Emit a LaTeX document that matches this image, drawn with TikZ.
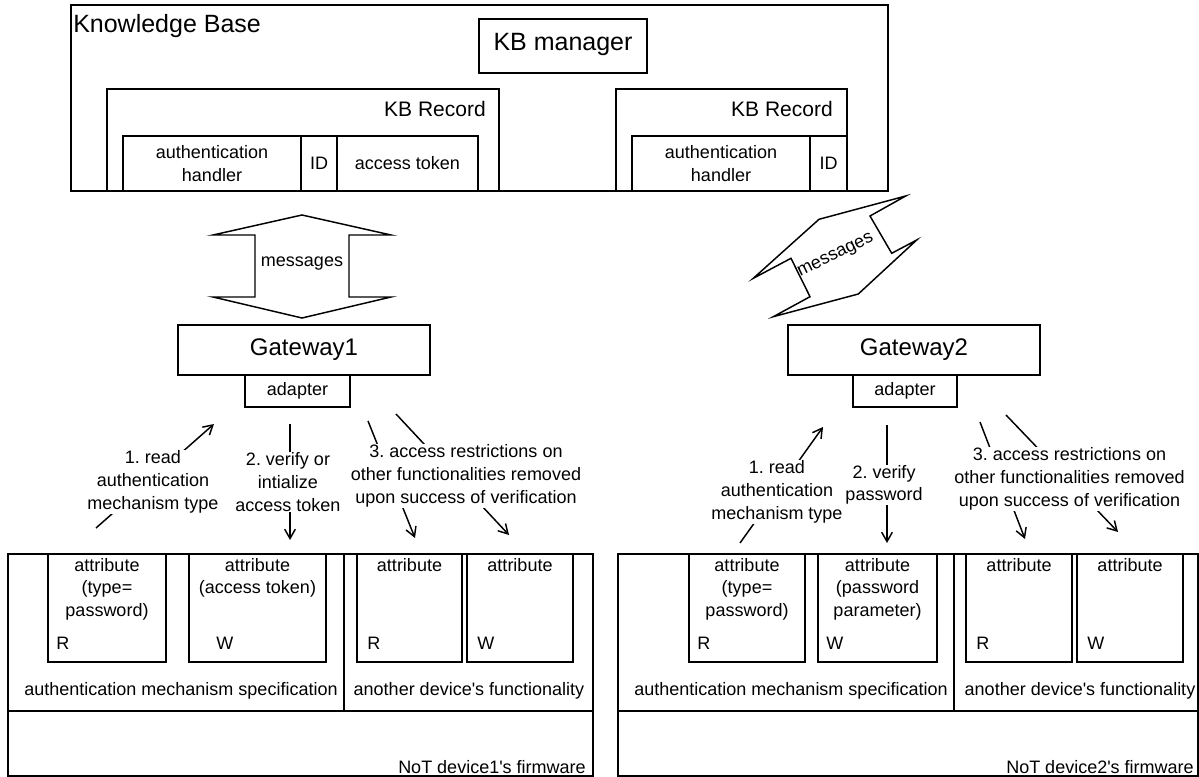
\documentclass[tikz,border=0pt]{standalone}
\usepackage{fontspec}
\setmainfont{Liberation Sans}
\usetikzlibrary{arrows.meta,fit}
\newcommand{\apo}{\textquotesingle}
\frenchspacing
\begin{document}
\begin{tikzpicture}[x=0.75pt,y=-0.75pt,
  box/.style={draw, line width=1.1pt, inner sep=0pt, outer sep=0pt},
  txt/.style={font=\fontsize{13.5}{17}\selectfont, inner sep=0pt, align=center},
  big/.style={font=\fontsize{18.75}{22}\selectfont, inner sep=0pt},
  gwf/.style={font=\fontsize{18}{22}\selectfont, inner sep=0pt},
  rec/.style={font=\fontsize{15.75}{19}\selectfont, inner sep=0pt},
  conn/.style={line width=1.1pt, -{Straight Barb[length=7pt,width=8pt]}},
  lab/.style={txt, fill=white, inner sep=0.5pt},
  msg/.style={line width=1.1pt, line join=miter}
]
\useasboundingbox (0,0) rectangle (1199,777);

% Knowledge base
\node[box, fit={(71,5)(888,191)}] (kb) {};
\node[big, anchor=base west] (kbt) at (73,33) {Knowledge Base};
\node[box, fit={(479,19)(647,73)}] (kbm) {};
\node[big] (kbmt) at ([yshift=1pt]kbm.center) {KB manager};
\node[box, fit={(107,89)(499,191)}] (rec1) {};
\node[rec, anchor=base east] (rec1t) at (486,117) {KB Record};
\node[box, fit={(123,136)(301,191)}] (ah1) {};
\node[txt] (ah1t) at (ah1.center) {authentication\\handler};
\node[box, fit={(301,136)(337,191)}] (id1) {};
\node[txt] (id1t) at (id1.center) {ID};
\node[box, fit={(337,136)(478,191)}] (at1) {};
\node[txt] (at1t) at (at1.center) {access token};
\node[box, fit={(616,89)(847,191)}] (rec2) {};
\node[rec, anchor=base east] (rec2t) at (833,117) {KB Record};
\node[box, fit={(632,136)(810,191)}] (ah2) {};
\node[txt] (ah2t) at (ah2.center) {authentication\\handler};
\node[box, fit={(810,136)(847,191)}] (id2) {};
\node[txt] (id2t) at (id2.center) {ID};

% messages arrows
\draw[msg] (302,215) -- (391,235) -- (349,235) -- (349,297) -- (391,297) -- (302,318)
  -- (213,297) -- (255,297) -- (255,235) -- (213,235) -- cycle;
\node[txt] (m1) at (302,264) {messages};
\draw[msg] (905.7,196) -- (870,216) -- (891.7,253.3) -- (916.7,240) -- (858.3,294)
  -- (773.3,316.7) -- (810,296.7) -- (791,258.3) -- (753.3,278.3) -- (819,219.3) -- cycle;
\node[txt, rotate=26] (m2) at (836,256) {messages};

% gateways
\node[box, fit={(178,325)(430,375)}] (gw1) {};
\node[gwf] (gw1t) at (gw1.center) {Gateway1};
\node[box, fit={(245,375)(350,407)}] (ad1) {};
\node[txt] (ad1t) at (ad1.center) {adapter};
\node[box, fit={(788,325)(1040,375)}] (gw2) {};
\node[gwf] (gw2t) at (gw2.center) {Gateway2};
\node[box, fit={(853,375)(957,407)}] (ad2) {};
\node[txt] (ad2t) at (ad2.center) {adapter};

% connectors left
\coordinate (l1s) at (96,528); \coordinate (l1e) at (214,424);
\coordinate (l2s) at (290,424); \coordinate (l2e) at (290,540);
\coordinate (l3as) at (368,421); \coordinate (l3ae) at (415,538);
\coordinate (l3bs) at (396,414); \coordinate (l3be) at (509,535);
\draw[conn] (l1s) -- (l1e);
\draw[conn] (l2s) -- (l2e);
\draw[conn] (l3as) -- (l3ae);
\draw[conn] (l3bs) -- (l3be);
\node[lab] (lab1) at (153,482) {1. read\\authentication\\mechanism type};
\node[lab] (lab2) at (288,482) {2. verify or\\intialize\\access token};
\node[lab] (lab3) at (466,476) {3. access restrictions on\\other functionalities removed\\upon success of verification};

% connectors right
\coordinate (r1s) at (740,543); \coordinate (r1e) at (823,427);
\coordinate (r2s) at (887,425); \coordinate (r2e) at (887,543);
\coordinate (r3as) at (980,422); \coordinate (r3ae) at (1025,539);
\coordinate (r3bs) at (1006,415); \coordinate (r3be) at (1118,532);
\draw[conn] (r1s) -- (r1e);
\draw[conn] (r2s) -- (r2e);
\draw[conn] (r3as) -- (r3ae);
\draw[conn] (r3bs) -- (r3be);
\node[lab] (lab4) at (777,492) {1. read\\authentication\\mechanism type};
\node[lab] (lab5) at (884,485) {2. verify\\password};
\node[lab] (lab6) at (1069.5,479) {3. access restrictions on\\other functionalities removed\\upon success of verification};

% device 1
\node[box, fit={(8,554)(344,711)}] (spec1) {};
\node[box, fit={(344,554)(593,711)}] (func1) {};
\node[box, fit={(8,711)(593,776)}] (fw1) {};
\node[txt] (spec1t) at (181,691) {authentication mechanism specification};
\node[txt] (func1t) at (469,691) {another device\apo s functionality};
\node[txt, anchor=base east] (fw1t) at (586,773) {NoT device1\apo s firmware};
\node[box, fit={(48,554)(166,662)}] (a1) {};
\node[txt, anchor=north] (a1t) at (107,558) {attribute\\(type=\\password)};
\node[txt, anchor=base west] (a1r) at (56,649) {R};
\node[box, fit={(189,554)(326,662)}] (a2) {};
\node[txt, anchor=north] (a2t) at (257.5,558) {attribute\\(access token)};
\node[txt, anchor=base west] (a2w) at (216,649) {W};
\node[box, fit={(357,554)(462,662)}] (a3) {};
\node[txt, anchor=north] (a3t) at (409.5,558) {attribute};
\node[txt, anchor=base west] (a3r) at (367,649) {R};
\node[box, fit={(467,554)(573,662)}] (a4) {};
\node[txt, anchor=north] (a4t) at (520,558) {attribute};
\node[txt, anchor=base west] (a4w) at (477,649) {W};

% device 2
\node[box, fit={(618,554)(954,711)}] (spec2) {};
\node[box, fit={(954,554)(1198,711)}] (func2) {};
\node[box, fit={(618,711)(1198,776)}] (fw2) {};
\node[txt] (spec2t) at (791,691) {authentication mechanism specification};
\node[txt] (func2t) at (1080,691) {another device\apo s functionality};
\node[txt, anchor=base east] (fw2t) at (1194,773) {NoT device2\apo s firmware};
\node[box, fit={(689,554)(805,662)}] (a5) {};
\node[txt, anchor=north] (a5t) at (747,558) {attribute\\(type=\\password)};
\node[txt, anchor=base west] (a5r) at (697,649) {R};
\node[box, fit={(818,554)(937,662)}] (a6) {};
\node[txt, anchor=north] (a6t) at (877.5,558) {attribute\\(password\\parameter)};
\node[txt, anchor=base west] (a6w) at (826,649) {W};
\node[box, fit={(966,554)(1072,662)}] (a7) {};
\node[txt, anchor=north] (a7t) at (1019,558) {attribute};
\node[txt, anchor=base west] (a7r) at (976,649) {R};
\node[box, fit={(1077,554)(1183,662)}] (a8) {};
\node[txt, anchor=north] (a8t) at (1130,558) {attribute};
\node[txt, anchor=base west] (a8w) at (1087,649) {W};
\end{tikzpicture}
\end{document}
